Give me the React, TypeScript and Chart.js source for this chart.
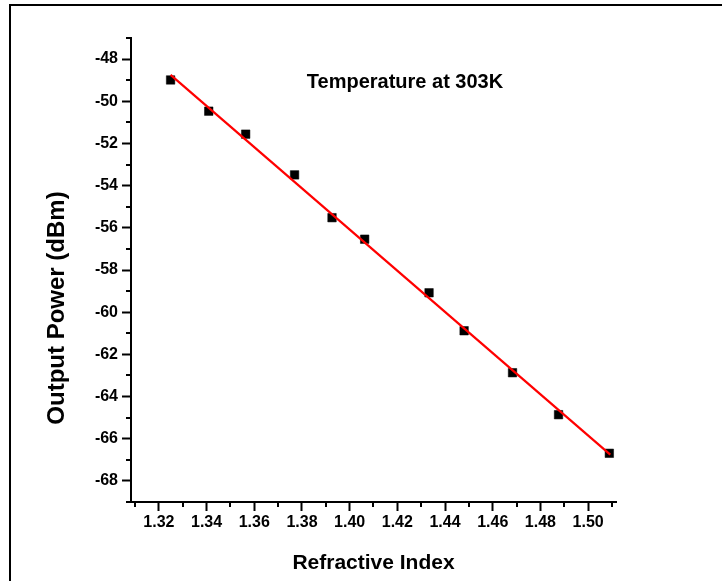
import React, { useEffect, useRef } from "react";
import { Chart, registerables } from "chart.js";

Chart.register(...registerables);

// ---- data ----
const refractiveIndex = [1.3249, 1.3409, 1.3564, 1.3769, 1.3926, 1.4063, 1.4333, 1.448, 1.4683, 1.4876, 1.5089];
const outputPower = [-48.99, -50.47, -51.56, -53.49, -55.52, -56.54, -59.08, -60.88, -62.87, -64.86, -66.69];
const fitIndex = [1.3249, 1.5093];
const fitPower = [-48.75, -66.75];

const xTickValues = [1.32, 1.34, 1.36, 1.38, 1.4, 1.42, 1.44, 1.46, 1.48, 1.5];
const xMinorValues = [1.31, 1.33, 1.35, 1.37, 1.39, 1.41, 1.43, 1.45, 1.47, 1.49, 1.51];
const yTickValues = [-68, -66, -64, -62, -60, -58, -56, -54, -52, -50, -48];
const yMinorValues = [-69, -67, -65, -63, -61, -59, -57, -55, -53, -51, -49, -47];

const xRange = [1.3083, 1.5117];
const yRange = [-69, -47];

const annotationText = "Temperature at 303K";
const annotationAt = [1.4232, -49.13];
const xTitle = "Refractive Index";
const yTitle = "Output Power (dBm)";

const FAMILY = '"Liberation Sans", Arial, Helvetica, sans-serif';

export default function App() {
  const ref = useRef<HTMLCanvasElement | null>(null);

  useEffect(() => {
    document.body.style.margin = "0";
    const canvas = ref.current;
    if (!canvas) return;

    const framePlugin = {
      id: "frame",
      beforeDraw(chart: any) {
        const ctx = chart.ctx;
        ctx.save();
        ctx.fillStyle = "#ffffff";
        ctx.fillRect(0, 0, chart.width, chart.height);
        ctx.fillStyle = "#000000";
        ctx.fillRect(9, 4, chart.width - 9, 2);
        ctx.fillRect(9, 4, 2, chart.height - 4);
        ctx.restore();
      },
      afterDraw(chart: any) {
        const ctx = chart.ctx;
        const xs = chart.scales.x;
        const ys = chart.scales.y;
        const area = chart.chartArea;
        ctx.save();
        ctx.strokeStyle = "#000";
        ctx.lineWidth = 2;
        ctx.beginPath();
        for (const v of yMinorValues) {
          const p = Math.round(ys.getPixelForValue(v));
          ctx.moveTo(area.left - 5, p);
          ctx.lineTo(area.left, p);
        }
        for (const v of xMinorValues) {
          const p = Math.round(xs.getPixelForValue(v));
          ctx.moveTo(p, area.bottom);
          ctx.lineTo(p, area.bottom + 5);
        }
        ctx.stroke();

        // annotation text
        ctx.fillStyle = "#000";
        ctx.font = `bold 20px ${FAMILY}`;
        ctx.textAlign = "center";
        ctx.textBaseline = "middle";
        ctx.fillText(annotationText, xs.getPixelForValue(annotationAt[0]), ys.getPixelForValue(annotationAt[1]));

        // y title
        ctx.translate(57, 308);
        ctx.rotate(-Math.PI / 2);
        ctx.font = `bold 24px ${FAMILY}`;
        ctx.fillText(yTitle, 0, 0);
        ctx.restore();
      },
    };

    const chart = new Chart(canvas, {
      type: "scatter",
      data: {
        datasets: [
          {
            type: "line",
            label: "fit",
            data: fitIndex.map((x, i) => ({ x, y: fitPower[i] })),
            borderColor: "#ff0000",
            borderWidth: 2.2,
            pointRadius: 0,
            fill: false,
            order: 0,
          },
          {
            label: "data",
            data: refractiveIndex.map((x, i) => ({ x, y: outputPower[i] })),
            pointStyle: "rect",
            pointRadius: 6,
            pointBackgroundColor: "#000",
            pointBorderColor: "#000",
            pointBorderWidth: 0.5,
            order: 1,
          },
        ],
      },
      options: {
        responsive: false,
        animation: false,
        layout: { padding: { left: 0, top: 38, right: 106, bottom: 0 } },
        plugins: { legend: { display: false }, tooltip: { enabled: false }, title: { display: false } },
        scales: {
          x: {
            type: "linear",
            min: xRange[0],
            max: xRange[1],
            afterBuildTicks: (s: any) => {
              s.ticks = xTickValues.map((v) => ({ value: v }));
            },
            afterFit: (s: any) => {
              s.height = 79;
            },
            ticks: {
              color: "#000",
              font: { family: FAMILY, size: 16, weight: "bold" },
              padding: 2,
              maxRotation: 0,
              autoSkip: false,
              callback: (v: any) => Number(v).toFixed(2),
            },
            grid: { drawOnChartArea: false, drawTicks: true, tickLength: 9, tickWidth: 2, tickColor: "#000" },
            border: { display: true, color: "#000", width: 2 },
            title: {
              display: true,
              text: xTitle,
              color: "#000",
              font: { family: FAMILY, size: 21, weight: "bold" },
              padding: { top: 0, bottom: 5 },
            },
          },
          y: {
            type: "linear",
            min: yRange[0],
            max: yRange[1],
            afterBuildTicks: (s: any) => {
              s.ticks = yTickValues.map((v) => ({ value: v }));
            },
            afterFit: (s: any) => {
              s.width = 131;
            },
            ticks: {
              color: "#000",
              font: { family: FAMILY, size: 16, weight: "bold" },
              padding: 4,
              autoSkip: false,
              callback: (v: any) => String(v),
            },
            grid: { drawOnChartArea: false, drawTicks: true, tickLength: 9, tickWidth: 2, tickColor: "#000" },
            border: { display: true, color: "#000", width: 2 },
          },
        },
      },
      plugins: [framePlugin],
    });

    return () => chart.destroy();
  }, []);

  return (
    <div style={{ width: 722, height: 581 }}>
      <canvas ref={ref} width={722} height={581} />
    </div>
  );
}
